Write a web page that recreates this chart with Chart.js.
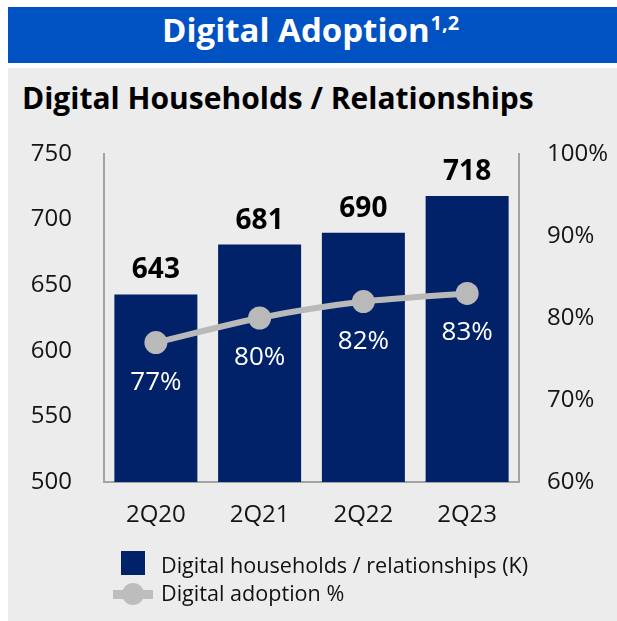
<!DOCTYPE html>
<html>
<head>
<meta charset="utf-8">
<script src="https://cdn.jsdelivr.net/npm/chart.js@4.4.0/dist/chart.umd.min.js"></script>
<style>
  html, body { margin: 0; padding: 0; background: #ffffff; }
  body { width: 617px; height: 621px; position: relative; overflow: hidden; font-family: "Open Sans", sans-serif; }
  #header { position: absolute; left: 8px; top: 7px; width: 609px; height: 56px; background: #0052c2; }
  #title { position: absolute; left: 162px; top: 13px; font-size: 33px; line-height: 33px; font-weight: 700; color: #ffffff; white-space: nowrap; }
  #title .sup { font-size: 20px; position: relative; top: -12px; margin-left: 1px; }
  #panel { position: absolute; left: 8px; top: 68px; width: 609px; height: 553px; background: #ececec; }
  #subtitle { position: absolute; left: 22px; top: 83px; font-size: 30px; line-height: 30px; font-weight: 700; color: #000000; white-space: nowrap; }
  #chart { position: absolute; left: 0; top: 0; }
  .leg { position: absolute; font-size: 21.6px; line-height: 22px; color: #111111; white-space: nowrap; }
  #legBox { position: absolute; left: 121px; top: 551px; width: 24px; height: 24px; background: #012169; }
  #legLine { position: absolute; left: 113px; top: 590px; width: 40px; height: 9px; background: #bdbdbd; }
  #legDot { position: absolute; left: 122px; top: 583px; width: 22px; height: 22px; border-radius: 50%; background: #bdbdbd; }
</style>
</head>
<body>
<div id="header"></div>
<div id="title">Digital Adoption<span class="sup">1,2</span></div>
<div id="panel"></div>
<div id="subtitle">Digital Households / Relationships</div>
<canvas id="chart" width="617" height="621"></canvas>
<div id="legBox"></div>
<div class="leg" style="left:161px; top:554px;">Digital households / relationships (K)</div>
<div id="legLine"></div>
<div id="legDot"></div>
<div class="leg" style="left:161px; top:582px;">Digital adoption %</div>
<script>
const categories = ["2Q20", "2Q21", "2Q22", "2Q23"];
const households = [643, 681, 690, 718];
const adoption = [77, 80, 82, 83];
const leftTicks = [500, 550, 600, 650, 700, 750];
const rightTicks = [60, 70, 80, 90, 100];

const NAVY = "#012169";
const GREY = "#b9b9b9";
const AXIS = "#a3a3a3";
const TXT = "#141414";
const FONT = "'Open Sans', sans-serif";

const labelPlugin = {
  id: "valueLabels",
  afterDatasetsDraw(chart) {
    const ctx = chart.ctx;
    ctx.save();
    const barMeta = chart.getDatasetMeta(1);
    ctx.font = "700 28px " + FONT;
    ctx.fillStyle = "#000000";
    ctx.textAlign = "center";
    ctx.textBaseline = "alphabetic";
    barMeta.data.forEach((el, i) => {
      ctx.fillText(String(households[i]), el.x, el.y - 16);
    });
    const lineMeta = chart.getDatasetMeta(0);
    ctx.font = "400 26px " + FONT;
    ctx.fillStyle = "#ffffff";
    lineMeta.data.forEach((el, i) => {
      ctx.fillText(adoption[i] + "%", el.x, el.y + 47);
    });
    ctx.restore();
  }
};

new Chart(document.getElementById("chart"), {
  data: {
    labels: categories,
    datasets: [
      {
        type: "line",
        label: "Digital adoption %",
        data: adoption,
        yAxisID: "y1",
        borderColor: GREY,
        backgroundColor: GREY,
        borderWidth: 6,
        pointRadius: 11.5,
        pointHoverRadius: 11.5,
        pointBackgroundColor: GREY,
        pointBorderWidth: 0,
        tension: 0.3,
        order: 0
      },
      {
        type: "bar",
        label: "Digital households / relationships (K)",
        data: households,
        yAxisID: "y",
        backgroundColor: NAVY,
        barPercentage: 0.8,
        categoryPercentage: 1.0,
        order: 1
      }
    ]
  },
  options: {
    responsive: false,
    devicePixelRatio: 1,
    animation: false,
    layout: { padding: { top: 154, left: 0, right: 0, bottom: 0 } },
    plugins: { legend: { display: false }, tooltip: { enabled: false }, title: { display: false } },
    scales: {
      x: {
        grid: { display: false, drawTicks: false },
        border: { display: true, color: AXIS, width: 2 },
        ticks: { color: TXT, font: { family: FONT, size: 24 }, padding: 19 },
        afterFit(s) { s.height = 139; }
      },
      y: {
        position: "left",
        min: leftTicks[0],
        max: leftTicks[leftTicks.length - 1],
        afterBuildTicks(s) { s.ticks = leftTicks.map(v => ({ value: v })); },
        grid: { display: false, drawTicks: false },
        border: { display: true, color: AXIS, width: 2 },
        ticks: { color: TXT, font: { family: FONT, size: 24 }, padding: 32 },
        afterFit(s) { s.width = 104; }
      },
      y1: {
        position: "right",
        min: rightTicks[0],
        max: rightTicks[rightTicks.length - 1],
        afterBuildTicks(s) { s.ticks = rightTicks.map(v => ({ value: v })); },
        grid: { display: false, drawTicks: false },
        border: { display: true, color: AXIS, width: 2 },
        ticks: { color: TXT, font: { family: FONT, size: 24 }, padding: 28, callback: v => v + "%" },
        afterFit(s) { s.width = 98; }
      }
    }
  },
  plugins: [labelPlugin]
});
</script>
</body>
</html>
